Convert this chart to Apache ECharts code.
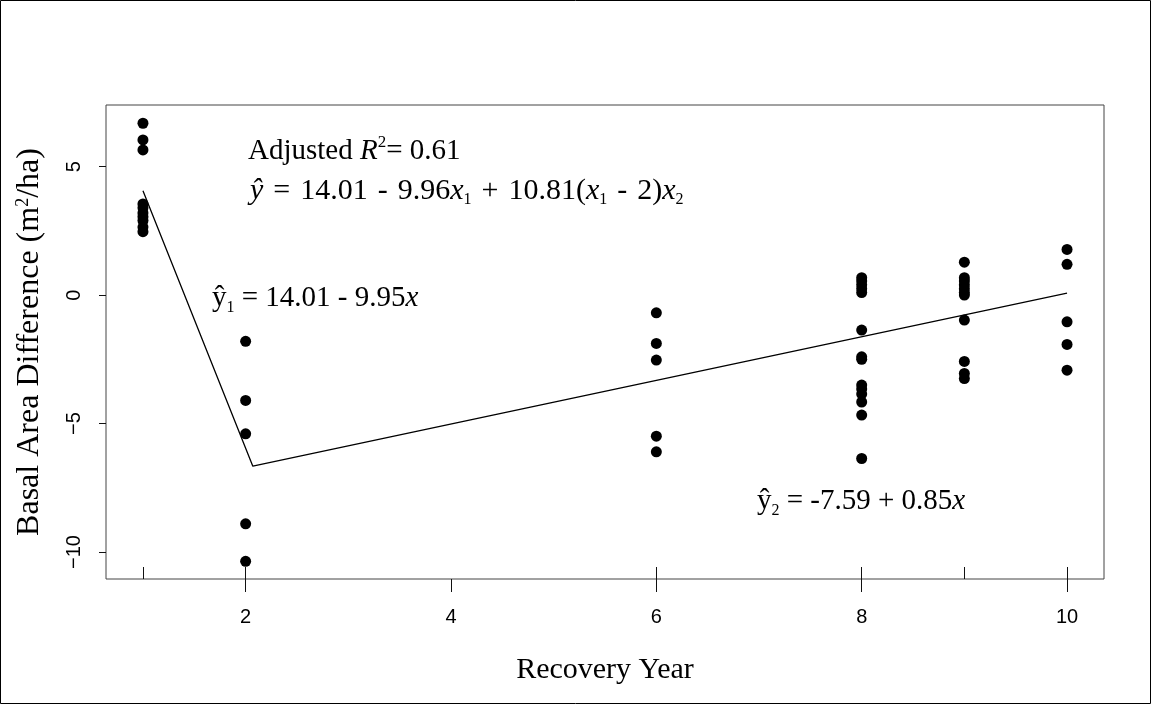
<!DOCTYPE html>
<html>
<head>
<meta charset="utf-8">
<script src="https://cdn.jsdelivr.net/npm/echarts@6/dist/echarts.min.js"></script>
<style>
html,body{margin:0;padding:0;background:#fff;}
#chart{width:1151px;height:704px;}
</style>
</head>
<body>
<div id="chart"></div>
<script>
// ---- data ----
var years = [1, 2, 6, 8, 9, 10];
var year1 = [6.69, 6.04, 5.65, 3.55, 3.4, 3.2, 3.05, 2.9, 2.65, 2.47];
var year2 = [-1.8, -4.1, -5.4, -8.9, -10.36];
var year6 = [-0.69, -1.88, -2.53, -5.49, -6.10];
var year8 = [0.68, 0.55, 0.4, 0.25, 0.1, -1.36, -2.4, -2.5, -3.5, -3.65, -3.85, -4.16, -4.67, -6.36];
var year9 = [1.28, 0.68, 0.55, 0.4, 0.25, 0.1, 0.0, -0.97, -2.58, -3.05, -3.25];
var year10 = [1.78, 1.2, -1.04, -1.92, -2.92];
var fitX = [1, 2.07, 10];
var fitY = [4.06, -6.66, 0.08];
var xTicks = [2, 4, 6, 8, 10];
var yTicks = [-10, -5, 0, 5];

var groups = [year1, year2, year6, year8, year9, year10];
var points = [];
groups.forEach(function (g, i) {
  g.forEach(function (v) { points.push([years[i], v]); });
});
var fitData = fitX.map(function (x, i) { return [x, fitY[i]]; });

var SERIF = "'Liberation Serif', 'Times New Roman', serif";
var SANS = "'Liberation Sans', Arial, sans-serif";
var FS = 29;
var rich = {
  n: { fontSize: FS, fontFamily: SERIF, lineHeight: 34, color: '#000' },
  i: { fontSize: FS, fontFamily: SERIF, fontStyle: 'italic', lineHeight: 34, color: '#000' },
  N: { fontSize: 30, fontFamily: SERIF, lineHeight: 34, color: '#000' },
  I: { fontSize: 30, fontFamily: SERIF, fontStyle: 'italic', lineHeight: 34, color: '#000' },
  g: { fontSize: 30, fontFamily: SERIF, lineHeight: 34, width: 10 },
  sup: { fontSize: 17, fontFamily: SERIF, verticalAlign: 'top', lineHeight: 26, color: '#000' },
  sub: { fontSize: 16, fontFamily: SERIF, verticalAlign: 'bottom', lineHeight: 19, color: '#000' }
};
function txt(x, y, text) {
  return { type: 'text', left: x, top: y, style: { text: text, rich: rich, fill: '#000' }, z: 100 };
}

var chart = echarts.init(document.getElementById('chart'), null, { renderer: 'canvas' });
chart.setOption({
  animation: false,
  backgroundColor: '#fff',
  grid: { left: 106, right: 47, top: 105, bottom: 125, show: true, borderColor: '#444', borderWidth: 1, backgroundColor: 'transparent' },
  xAxis: [{
    type: 'value', min: 0.64, max: 10.36, position: 'bottom',
    name: 'Recovery Year', nameLocation: 'middle', nameGap: 76,
    nameTextStyle: { fontFamily: SERIF, fontSize: 30, color: '#000' },
    axisLine: { show: false, onZero: false },
    axisTick: { show: true, length: 13, customValues: xTicks, lineStyle: { color: '#111' } },
    axisLabel: { customValues: xTicks, fontFamily: SANS, fontSize: 20, color: '#000', margin: 28 },
    splitLine: { show: false }
  }, {
    type: 'value', min: 0.64, max: 10.36, position: 'bottom',
    axisLine: { show: false, onZero: false },
    axisTick: { show: true, inside: true, length: 12, customValues: years, lineStyle: { color: '#111' } },
    axisLabel: { show: false },
    splitLine: { show: false }
  }],
  yAxis: {
    type: 'value', min: -11.05, max: 7.4,
    name: 'Basal Area Difference (m{s|2}/ha)', nameLocation: 'middle', nameGap: 60,
    nameTextStyle: { fontFamily: SERIF, fontSize: 32, color: '#000',
      rich: { s: { fontSize: 18, fontFamily: SERIF, verticalAlign: 'top', lineHeight: 28, color: '#000' } } },
    axisLine: { show: false, onZero: false },
    axisTick: { show: true, length: 7, customValues: yTicks, lineStyle: { color: '#111' } },
    axisLabel: { customValues: yTicks, rotate: 90, fontFamily: SANS, fontSize: 20, color: '#000', margin: 22,
      formatter: function (v) { return String(v).replace('-', '\u2212'); } },
    splitLine: { show: false }
  },
  series: [{
    type: 'scatter', data: points, symbol: 'circle', symbolSize: 11,
    itemStyle: { color: '#000', opacity: 1 }, z: 3
  }, {
    type: 'line', data: fitData, symbol: 'none', lineStyle: { color: '#000', width: 1.3 }, z: 2
  }],
  graphic: [
    { type: 'rect', shape: { x: 0.5, y: 0.5, width: 1150, height: 703 }, style: { fill: 'none', stroke: '#000', lineWidth: 1 }, z: 0 },
    txt(248, 134, '{n|Adjusted }{i|R}{sup|2}{n|= 0.61}'),
    txt(250, 176, '{I|ŷ}{g| }{N|=}{g| }{N|14.01}{g| }{N|-}{g| }{N|9.96}{I|x}{sub|1}{g| }{N|+}{g| }{N|10.81(}{I|x}{sub|1}{g| }{N|-}{g| }{N|2)}{I|x}{sub|2}'),
    txt(212, 284, '{n|ŷ}{sub|1}{n| = 14.01 - 9.95}{i|x}'),
    txt(757, 487, '{n|ŷ}{sub|2}{n| = -7.59 + 0.85}{i|x}')
  ]
});
</script>
</body>
</html>
